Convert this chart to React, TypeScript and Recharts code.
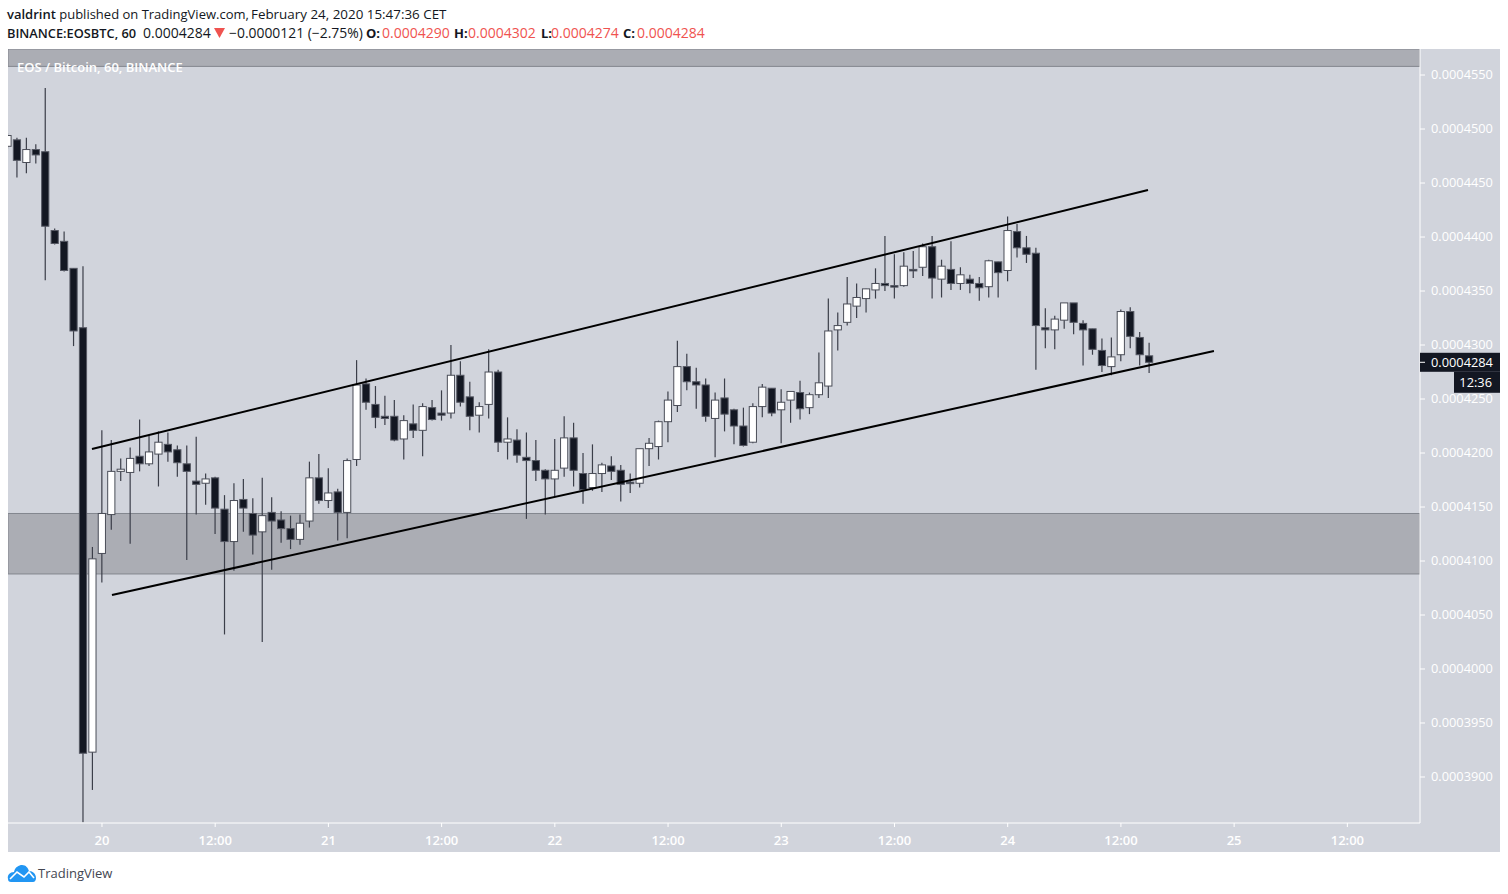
import React from "react";
import { Bar, ComposedChart, ReferenceArea, ReferenceDot, ReferenceLine, XAxis, YAxis } from "recharts";

// prices are in units of 0.0000001 BTC, one candle per hour, hour 0 = Feb 20 00:00
const firstHour = -10;
const opens = [
  4484, 4490, 4469, 4481, 4479, 4406, 4396, 4371, 4316, 3923,
  4107, 4143, 4183, 4182, 4197, 4190, 4199, 4208, 4203, 4190, 4174, 4172, 4177, 4148, 4118, 4157, 4144, 4127, 4145, 4138,
  4130, 4120, 4137, 4177, 4156, 4164, 4145, 4194, 4264, 4245, 4234, 4234, 4213, 4227, 4221, 4242, 4237, 4237, 4272, 4252,
  4235, 4245, 4275, 4210, 4212, 4196, 4193, 4184, 4176, 4186, 4214, 4181, 4168, 4181, 4188, 4184, 4173, 4172, 4204, 4206,
  4229, 4244, 4280, 4266, 4263, 4232, 4251, 4240, 4225, 4210, 4243, 4260, 4240, 4249, 4256, 4242, 4254, 4262, 4314, 4321,
  4336, 4343, 4351, 4357, 4355, 4355, 4370, 4372, 4391, 4361, 4370, 4357, 4361, 4357, 4354, 4377, 4369, 4405, 4390, 4385,
  4316, 4314, 4323, 4339, 4320, 4315, 4295, 4280, 4291, 4331, 4307, 4290,
];
const highs = [
  4496, 4492, 4492, 4486, 4538, 4408, 4405, 4371, 4373, 4113,
  4221, 4212, 4195, 4205, 4231, 4216, 4220, 4219, 4207, 4207, 4215, 4181, 4178, 4161, 4172, 4176, 4158, 4177, 4159, 4146,
  4142, 4143, 4192, 4199, 4186, 4167, 4195, 4286, 4269, 4262, 4253, 4249, 4235, 4245, 4246, 4249, 4258, 4300, 4285, 4266,
  4247, 4296, 4277, 4233, 4222, 4219, 4212, 4185, 4213, 4234, 4228, 4200, 4208, 4191, 4197, 4189, 4181, 4204, 4214, 4230,
  4257, 4304, 4292, 4279, 4269, 4256, 4269, 4241, 4242, 4246, 4264, 4260, 4259, 4257, 4267, 4256, 4293, 4343, 4330, 4363,
  4357, 4352, 4371, 4401, 4384, 4386, 4387, 4394, 4401, 4379, 4396, 4372, 4365, 4363, 4379, 4377, 4419, 4412, 4401, 4390,
  4334, 4327, 4339, 4339, 4323, 4315, 4306, 4307, 4333, 4335, 4312, 4302,
];
const lows = [
  4482, 4455, 4459, 4468, 4360, 4393, 4368, 4299, 3858, 3888,
  4080, 4129, 4174, 4116, 4183, 4188, 4169, 4192, 4178, 4101, 4143, 4152, 4125, 4032, 4091, 4127, 4106, 4025, 4092, 4117,
  4111, 4115, 4131, 4153, 4149, 4119, 4121, 4188, 4240, 4223, 4226, 4211, 4194, 4214, 4197, 4230, 4230, 4232, 4243, 4221,
  4219, 4232, 4201, 4194, 4191, 4139, 4174, 4143, 4160, 4178, 4169, 4153, 4165, 4164, 4175, 4155, 4163, 4168, 4188, 4194,
  4210, 4238, 4258, 4241, 4229, 4196, 4220, 4208, 4206, 4209, 4233, 4234, 4209, 4228, 4231, 4236, 4251, 4251, 4295, 4318,
  4325, 4330, 4343, 4350, 4343, 4354, 4362, 4364, 4343, 4344, 4351, 4351, 4348, 4341, 4344, 4344, 4359, 4381, 4376, 4277,
  4297, 4296, 4315, 4310, 4281, 4291, 4275, 4272, 4285, 4297, 4281, 4274,
];
const closes = [
  4494, 4471, 4481, 4476, 4410, 4394, 4369, 4313, 3922, 4102,
  4144, 4183, 4185, 4195, 4190, 4201, 4210, 4201, 4191, 4183, 4171, 4176, 4149, 4118, 4156, 4149, 4124, 4142, 4137, 4130,
  4120, 4135, 4177, 4156, 4163, 4145, 4193, 4263, 4247, 4233, 4232, 4212, 4230, 4221, 4243, 4231, 4235, 4272, 4247, 4234,
  4243, 4275, 4210, 4213, 4198, 4193, 4184, 4176, 4184, 4214, 4184, 4166, 4181, 4189, 4183, 4171, 4172, 4204, 4209, 4229,
  4249, 4280, 4266, 4263, 4234, 4249, 4236, 4225, 4207, 4243, 4261, 4237, 4247, 4257, 4241, 4254, 4265, 4313, 4318, 4338,
  4344, 4352, 4357, 4355, 4354, 4373, 4369, 4391, 4362, 4373, 4357, 4365, 4357, 4353, 4378, 4367, 4406, 4390, 4384, 4318,
  4314, 4324, 4339, 4321, 4314, 4296, 4281, 4289, 4331, 4308, 4291, 4284,
];

const priceTicks = [3900, 3950, 4000, 4050, 4100, 4150, 4200, 4250, 4300, 4350, 4400, 4450, 4500, 4550];
const timeTicks = [0, 12, 24, 36, 48, 60, 72, 84, 96, 108, 120, 132];
const timeLabels = ["20", "12:00", "21", "12:00", "22", "12:00", "23", "12:00", "24", "12:00", "25", "12:00"];

// channel lines as [hour, price] pairs
const upperChannel = [[-1.06, 4203.7], [110.87, 4443.5]];
const lowerChannel = [[1.06, 4068.5], [117.86, 4294.4]];

const lastPrice = 4284;
const hourDomain = [-9.96, 139.7];
const priceDomain = [3857.4, 4574.1];

const candles = opens.map((open, i) => ({
  hour: firstHour + i,
  open,
  close: closes[i],
  range: [lows[i], highs[i]],
}));

const fmtPrice = (v: number) => (v / 1e7).toFixed(7);
const font = "'Open Sans', sans-serif";

// wick plus body, the body is placed inside the low-high bar the scale gave us
function Candle(props: any) {
  const { x, y, width, height, payload } = props;
  const [low, high] = payload.range;
  const perUnit = height / (high - low);
  const top = y + (high - Math.max(payload.open, payload.close)) * perUnit;
  const bodyH = Math.max(Math.abs(payload.open - payload.close) * perUnit, 1.5);
  const up = payload.close >= payload.open;
  const cx = x + width / 2 - 0.4;
  return (
    <g>
      <line x1={cx} x2={cx} y1={y} y2={y + height} stroke="#3b3e49" strokeWidth={1.2} />
      <rect
        x={cx - 3.6}
        y={top}
        width={7.2}
        height={bodyH}
        fill={up ? "#ffffff" : "#131722"}
        stroke={up ? "#4a4d58" : "#555863"}
        strokeWidth={1}
      />
    </g>
  );
}

function LastPriceTag(props: any) {
  const { cx, cy } = props;
  return (
    <g fontFamily={font} fontSize={12.8} fill="#ffffff">
      <rect x={cx} y={cy - 9.5} width={80} height={19} fill="#131722" />
      <line x1={cx} x2={cx + 5} y1={cy} y2={cy} stroke="#ffffff" />
      <text x={cx + 11} y={cy + 4.5}>{fmtPrice(lastPrice)}</text>
      <rect x={cx + 34} y={cy + 9.5} width={46} height={21} fill="#131722" />
      <text x={cx + 72} y={cy + 25} textAnchor="end">12:36</text>
    </g>
  );
}

const lineTwo: [number, string, boolean][] = [
  [366, "O:", false], [382, "0.0004290", true],
  [454, "H:", false], [468, "0.0004302", true],
  [541, "L:", false], [551, "0.0004274", true],
  [623, "C:", false], [637, "0.0004284", true],
];

const headerText: React.CSSProperties = { position: "absolute", color: "#131722", whiteSpace: "nowrap", lineHeight: "18px" };

export default function App() {
  return (
    <div style={{ position: "absolute", left: 0, top: 0, width: 1508, height: 894, background: "#fff", fontFamily: font, overflow: "hidden" }}>
      <div style={{ ...headerText, left: 7, top: 5, fontSize: 13 }}>
        <b style={{ fontWeight: 600 }}>valdrint</b> published on TradingView.com,
      </div>
      <div style={{ ...headerText, left: 251, top: 5, fontSize: 13.4 }}>February 24, 2020 15:47:36 CET</div>
      <div style={{ ...headerText, left: 7, top: 24, fontSize: 12.8, fontWeight: 600 }}>BINANCE:EOSBTC, 60</div>
      <div style={{ ...headerText, left: 143, top: 24, fontSize: 14 }}>0.0004284</div>
      <svg style={{ position: "absolute", left: 214, top: 27 }} width={11} height={12}>
        <polygon points="0,1 11,1 5.5,11" fill="#ef5350" />
      </svg>
      <div style={{ ...headerText, left: 229, top: 24, fontSize: 13.9 }}>−0.0000121 (−2.75%)</div>
      {lineTwo.map(([left, label, red]) => (
        <div key={left} style={{ ...headerText, left, top: 24, fontSize: red ? 14 : 13, fontWeight: red ? 400 : 700, color: red ? "#ef5350" : "#131722" }}>
          {label}
        </div>
      ))}
      <div style={{ position: "absolute", left: 8, top: 49, width: 1492, height: 803, background: "#d1d4dc" }} />
      <div style={{ position: "absolute", left: 0, top: 0 }}>
        <ComposedChart
          width={1508}
          height={894}
          data={candles}
          margin={{ top: 49, right: 8, bottom: 42, left: 8 }}
          barSize={8}
        >
          <XAxis
            dataKey="hour"
            type="number"
            domain={hourDomain}
            allowDataOverflow
            ticks={timeTicks}
            tickFormatter={(v: number) => timeLabels[timeTicks.indexOf(v)]}
            stroke="#ffffff"
            tickSize={4}
            tickMargin={9}
            height={29}
            interval={0}
            tick={{ fill: "#ffffff", fontSize: 13, fontFamily: font, fontWeight: 600 }}
          />
          <YAxis
            orientation="right"
            type="number"
            domain={priceDomain}
            allowDataOverflow
            ticks={priceTicks}
            tickFormatter={fmtPrice}
            stroke="#ffffff"
            tickSize={5}
            tickMargin={6}
            width={80}
            interval={0}
            tick={{ fill: "#ffffff", fontSize: 12.8, fontFamily: font, fontWeight: 500, dy: -1 }}
          />
          <Bar dataKey="range" shape={Candle} isAnimationActive={false} />
          <ReferenceArea y1={4088} y2={4144} fill="#000000" fillOpacity={0.18} stroke="#83868e" ifOverflow="hidden" />
          <ReferenceArea y1={4558} y2={4574.1} fill="#000000" fillOpacity={0.18} stroke="#83868e" ifOverflow="hidden" />
          <ReferenceLine
            segment={[{ x: upperChannel[0][0], y: upperChannel[0][1] }, { x: upperChannel[1][0], y: upperChannel[1][1] }]}
            stroke="#000000"
            strokeWidth={2}
          />
          <ReferenceLine
            segment={[{ x: lowerChannel[0][0], y: lowerChannel[0][1] }, { x: lowerChannel[1][0], y: lowerChannel[1][1] }]}
            stroke="#000000"
            strokeWidth={2}
          />
          <ReferenceDot x={hourDomain[1]} y={lastPrice} ifOverflow="visible" shape={LastPriceTag} />
        </ComposedChart>
      </div>
      <div style={{ position: "absolute", left: 17, top: 58, fontSize: 13, fontWeight: 600, color: "#ffffff", whiteSpace: "nowrap" }}>
        EOS / Bitcoin, 60, BINANCE
      </div>
      <svg style={{ position: "absolute", left: 7, top: 864 }} width={30} height={18} viewBox="0 0 30 18">
        <path d="M1 15 C0 11 3 8 7 8 C8 3 12 1 15 1 C19 1 21 4 22 7 C26 7 29 10 29 14 C29 16 28 18 26 18 L4 18 C2 18 1 17 1 15 Z" fill="#2196f3" />
        <path d="M3 15 L10 8 L17 13 L22 8 L27 14" fill="none" stroke="#ffffff" strokeWidth={1.6} />
      </svg>
      <div style={{ position: "absolute", left: 38, top: 864, fontSize: 13, color: "#434651" }}>TradingView</div>
    </div>
  );
}
